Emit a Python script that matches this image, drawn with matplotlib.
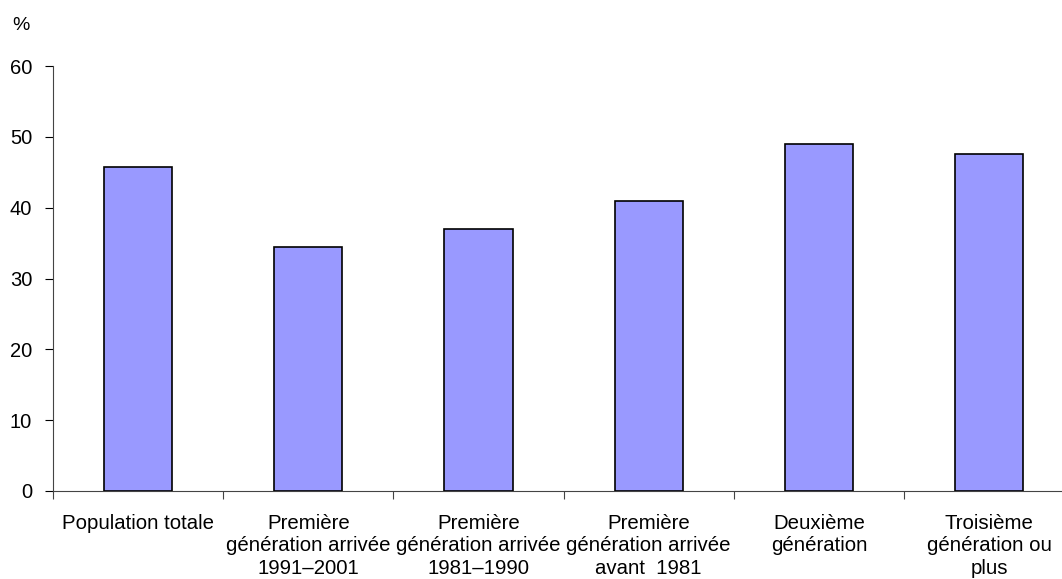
import matplotlib
matplotlib.use('Agg')
import matplotlib.pyplot as plt
import numpy as np

# categories and values
categories = ['Population totale',
              'Première\ngénération arrivée\n1991–2001',
              'Première\ngénération arrivée\n1981–1990',
              'Première\ngénération arrivée\navant  1981',
              'Deuxième\ngénération',
              'Troisième\ngénération ou\nplus']
values = [45.8, 34.5, 37.0, 41.0, 49.0, 47.6]
y_ticks = [0, 10, 20, 30, 40, 50, 60]

plt.rcParams['font.family'] = ['Liberation Sans', 'DejaVu Sans']

W, H = 1062, 579
fig = plt.figure(figsize=(W / 100, H / 100), dpi=100)
# axes extends past the right edge of the picture, as in the reference
left, right, top, bottom = 53, 53 + 6 * 170.2, 66, 491
ax = fig.add_axes([left / W, 1 - bottom / H, (right - left) / W, (bottom - top) / H])

x = np.arange(len(categories))
ax.bar(x, values, width=0.4, color='#9999ff', edgecolor='black', linewidth=1.2, zorder=3)

ax.set_xlim(-0.5, len(categories) - 0.5)
ax.set_ylim(0, 60)
ax.set_yticks(y_ticks)
ax.tick_params(axis='y', length=6, width=0.8, colors='black', labelsize=14.5, pad=9)

# category labels centered, ticks between categories
ax.set_xticks(np.arange(len(categories) + 1) - 0.5)
ax.set_xticklabels([])
ax.tick_params(axis='x', length=6, width=0.8, color='#444444')
for i, lab in enumerate(categories):
    ax.text(i, -3.2, lab, ha='center', va='top', fontsize=14.7, linespacing=1.23,
            transform=ax.transData)

for s in ['top', 'right']:
    ax.spines[s].set_visible(False)
ax.spines['left'].set_color('#444444')
ax.spines['bottom'].set_color('#444444')
ax.spines['left'].set_linewidth(0.8)
ax.spines['bottom'].set_linewidth(0.8)

fig.text(12 / W, 1 - 26 / H, '%', fontsize=14, va='center', ha='left')

plt.savefig('out.png', dpi=100)
